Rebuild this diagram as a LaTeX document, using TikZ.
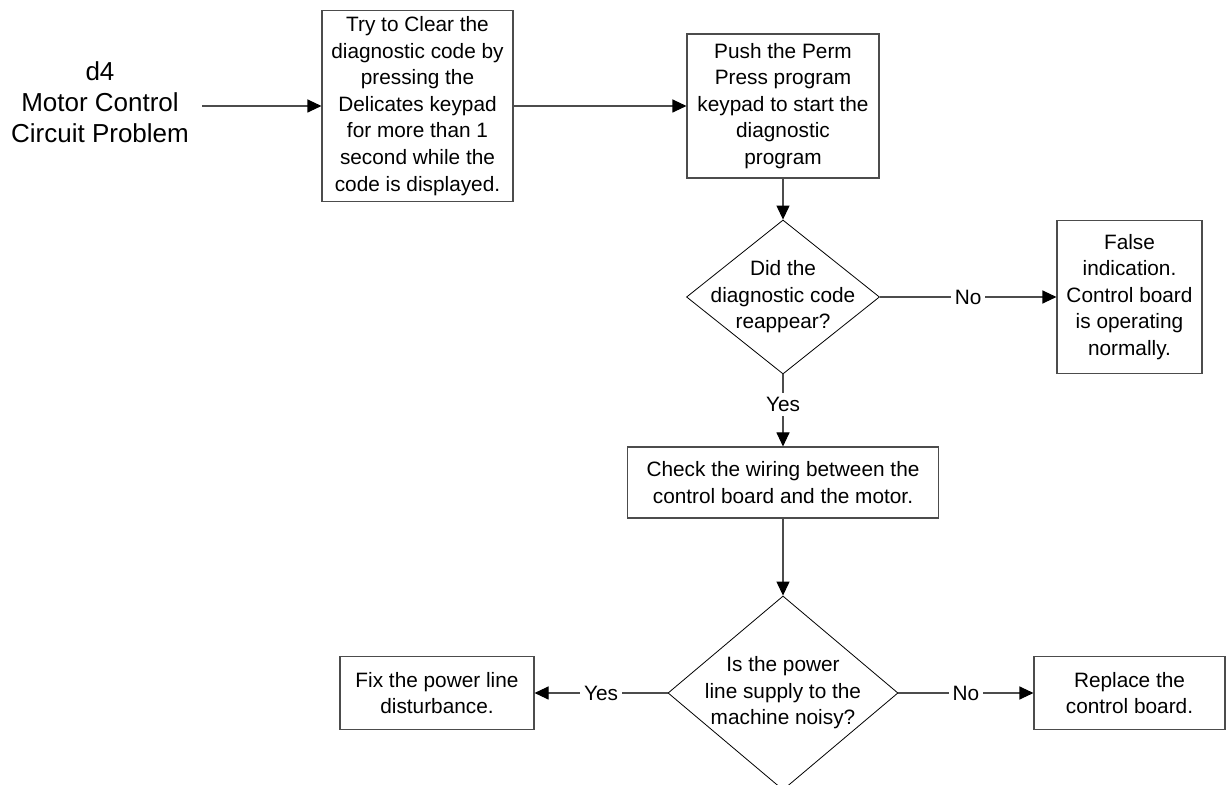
\documentclass[tikz,border=0pt]{standalone}
\usepackage{fontspec}
\setmainfont{Liberation Sans}
\usetikzlibrary{shapes.geometric,arrows.meta}

\begin{document}
\begin{tikzpicture}[x=0.5pt,y=-0.5pt]
\tikzstyle{every node}=[font=\fontsize{10.4pt}{13.3pt}\selectfont,align=center];
\tikzstyle{stepbox}=[draw=black!70,line width=0.55pt,inner sep=0pt];
\tikzstyle{decision}=[draw,shape=diamond,line width=0.4pt,inner sep=0pt,minimum width=96.5pt];
\tikzstyle{flow}=[draw=black!70,line width=0.55pt,-{Triangle[length=7pt,width=6.5pt,black]}];
\tikzstyle{answer}=[fill=white,inner sep=2pt];
\useasboundingbox (0,0) rectangle (1227,785);

% start
\node[font=\fontsize{13pt}{15.5pt}\selectfont] (title) at (100,102) {d4\\Motor Control\\Circuit Problem};
\coordinate (start) at (202,106);

% first steps
\node[stepbox,minimum width=95.5pt,minimum height=95.5pt] (clear) at (417.5,106) {Try to Clear the\\diagnostic code by\\pressing the\\Delicates keypad\\for more than 1\\second while the\\code is displayed.};
\node[stepbox,minimum width=96pt,minimum height=72pt] (perm) at (783,106) {Push the Perm\\Press program\\keypad to start the\\diagnostic\\program};

% first question
\node[decision,minimum height=77pt] (reappear) at (783,297) {};
\node (reappeartext) at (reappear) {Did the\\diagnostic code\\reappear?};
\node[stepbox,minimum width=72.5pt,minimum height=76.5pt] (false) at (1129.5,297) {False\\indication.\\Control board\\is operating\\normally.};
\node[stepbox,minimum width=155.5pt,minimum height=35.5pt] (wiring) at (783,482.5) {Check the wiring between the\\control board and the motor.};

% second question
\node[decision,minimum width=115pt,minimum height=97pt] (noisy) at (783,693) {};
\node (noisytext) at (noisy) {Is the power\\line supply to the\\machine noisy?};
\node[stepbox,minimum width=97pt,minimum height=36.5pt] (fix) at (437,693) {Fix the power line\\disturbance.};
\node[stepbox,minimum width=95.5pt,minimum height=36.5pt] (replace) at (1129.5,693) {Replace the\\control board.};

% connectors
\draw[flow] (start) -- (clear);
\draw[flow] (clear) -- (perm);
\draw[flow] (perm) -- (reappear);
\draw[flow] (reappear.east) -- node[answer]{No} (false.west);
\draw[flow] (reappear.south) -- node[answer,pos=0.42]{Yes} (wiring.north);
\draw[flow] (wiring) -- (noisy);
\draw[flow] (noisy.west) -- node[answer]{Yes} (fix.east);
\draw[flow] (noisy.east) -- node[answer]{No} (replace.west);
\end{tikzpicture}
\end{document}
